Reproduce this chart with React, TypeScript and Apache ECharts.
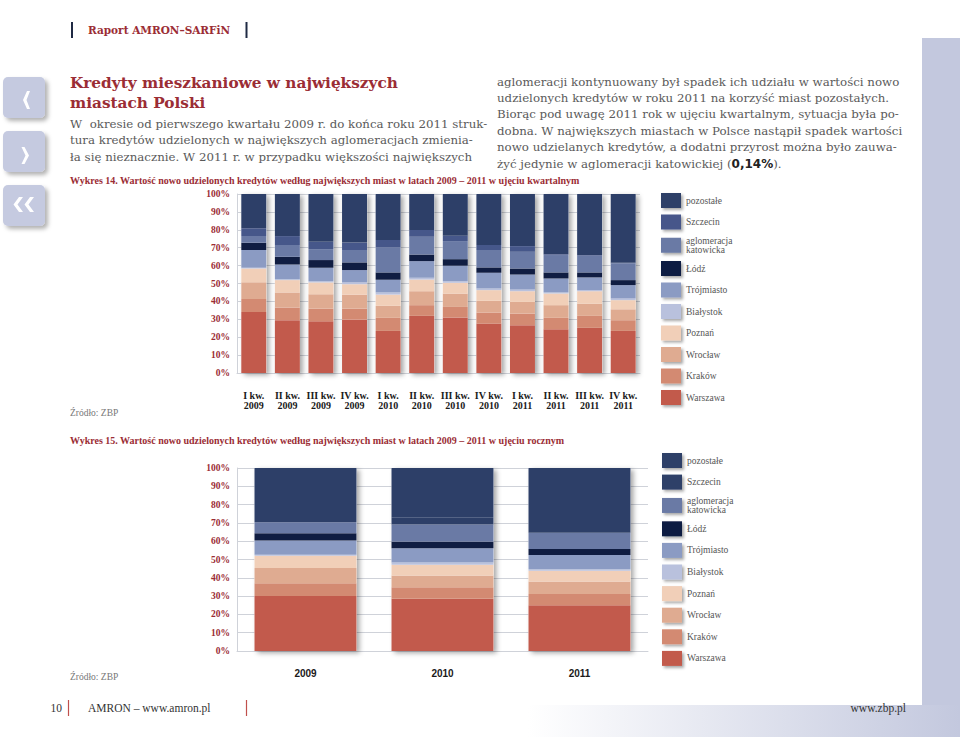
import React, { useEffect, useRef } from 'react';
import * as echarts from 'echarts';

// ---- data ----
const cityNames = ['Warszawa', 'Kraków', 'Wrocław', 'Poznań', 'Białystok', 'Trójmiasto', 'Łódź', 'aglomeracja katowicka', 'Szczecin', 'pozostałe'];
const cityColors = ['#c25a4c', '#d38a72', '#dfab91', '#f1cfb8', '#b9c1dd', '#8b9bc3', '#101d42', '#6a7aa5', '#46578a', '#2d3f68'];
const cityColorsYear = ['#c25a4c', '#d38a72', '#dfab91', '#f1cfb8', '#b9c1dd', '#8b9bc3', '#101d42', '#6a7aa5', '#2d3f68', '#2d3f68'];

const quarterLabels = ['I kw.\n2009', 'II kw.\n2009', 'III kw.\n2009', 'IV kw.\n2009', 'I kw.\n2010', 'II kw.\n2010', 'III kw.\n2010', 'IV kw.\n2010', 'I kw.\n2011', 'II kw.\n2011', 'III kw.\n2011', 'IV kw.\n2011'];
const yearLabels = ['2009', '2010', '2011'];
const percentTicks = { min: 0, max: 100, interval: 10 };

const warszawaQ = [34.1, 29.5, 28.9, 29.9, 23.5, 31.9, 31.0, 27.6, 26.7, 24.4, 25.2, 23.5];
const krakowQ = [7.3, 7.1, 7.1, 6.1, 7.3, 6.0, 5.9, 6.2, 6.5, 6.4, 6.7, 6.0];
const wroclawQ = [9.3, 8.4, 8.0, 7.8, 6.7, 7.8, 7.5, 6.5, 6.5, 7.1, 6.9, 6.1];
const poznanQ = [7.7, 6.9, 6.6, 5.8, 6.3, 6.5, 6.0, 6.0, 6.0, 6.5, 6.9, 5.1];
const bialystokQ = [0.4, 0.5, 0.7, 1.0, 1.2, 1.0, 0.9, 0.9, 0.9, 0.6, 0.6, 0.9];
const trojmiastoQ = [9.9, 8.2, 7.5, 6.9, 7.1, 9.3, 8.6, 8.8, 8.4, 7.8, 7.1, 7.5];
const lodzQ = [4.1, 4.3, 4.3, 4.3, 4.1, 3.7, 3.7, 3.0, 3.4, 3.4, 2.8, 2.8];
const katowickaQ = [3.7, 6.6, 6.1, 6.9, 13.8, 9.9, 10.1, 9.7, 9.3, 9.7, 9.3, 9.3];
const szczecinQ = [4.3, 5.0, 4.1, 4.2, 4.3, 3.8, 3.0, 2.8, 3.2, 0.4, 0.4, 0.4];
const pozostaleQ = [19.2, 23.5, 26.7, 27.1, 25.7, 20.1, 23.3, 28.5, 29.1, 33.7, 34.1, 38.4];

const warszawaY = [30.1, 28.5, 25.0];
const krakowY = [6.9, 6.4, 6.2];
const wroclawY = [8.3, 6.3, 6.8];
const poznanY = [6.7, 5.9, 5.8];
const bialystokY = [0.6, 1.3, 0.9];
const trojmiastoY = [7.8, 7.8, 7.7];
const lodzY = [4.0, 3.7, 3.3];
const katowickaY = [6.0, 9.2, 8.9];
const szczecinY = [4.4, 3.7, 1.5];
const pozostaleY = [25.2, 27.2, 33.9];

const quarterData = [warszawaQ, krakowQ, wroclawQ, poznanQ, bialystokQ, trojmiastoQ, lodzQ, katowickaQ, szczecinQ, pozostaleQ];
const yearData = [warszawaY, krakowY, wroclawY, poznanY, bialystokY, trojmiastoY, lodzY, katowickaY, szczecinY, pozostaleY];

const leftText = [
  'W  okresie od pierwszego kwartału 2009 r. do końca roku 2011 struk-',
  'tura kredytów udzielonych w największych aglomeracjach zmienia-',
  'ła się nieznacznie. W 2011 r. w przypadku większości największych',
];
const rightText = [
  'aglomeracji kontynuowany był spadek ich udziału w wartości nowo',
  'udzielonych kredytów w roku 2011 na korzyść miast pozostałych.',
  'Biorąc pod uwagę 2011 rok w ujęciu kwartalnym, sytuacja była po-',
  'dobna. W największych miastach w Polsce nastąpił spadek wartości',
  'nowo udzielanych kredytów, a dodatni przyrost można było zauwa-',
];

const RED = '#9b2d35';
const GRID = '#cfd2d9';
const SERIF = 'Liberation Serif';
const SLAB = 'DejaVu Serif';

function txt(x: number, y: number, text: string, size: number, o: any = {}) {
  return {
    type: 'text', x, y, silent: true,
    style: {
      text, fontSize: size, fontFamily: o.family || SERIF, fontWeight: o.weight || 'normal',
      fill: o.color || '#555', align: o.align || 'left', verticalAlign: 'middle', rich: o.rich,
    },
  };
}

function sumCols(arrs: number[][]) {
  return arrs[0].map((_, i) => arrs.reduce((s, a) => s + a[i], 0));
}

export default function App() {
  const ref = useRef<HTMLDivElement>(null);
  useEffect(() => {
    const chart = echarts.init(ref.current!, null, { renderer: 'svg', width: 960, height: 737 });

    const shadowStyle = { color: '#ffffff', shadowBlur: 5, shadowColor: 'rgba(0,0,0,0.35)', shadowOffsetX: 3, shadowOffsetY: 2 };

    const mkSeries = (data: number[][], colors: string[], axis: number, bw: number, stack: string) => [
      {
        name: 'cień' + axis, type: 'bar', xAxisIndex: axis, yAxisIndex: axis, barWidth: bw, barGap: '-100%', z: 1,
        silent: true, itemStyle: shadowStyle, data: sumCols(data), emphasis: { disabled: true },
      },
      ...cityNames.map((n, i) => ({
        name: n, type: 'bar', stack, xAxisIndex: axis, yAxisIndex: axis, barWidth: bw, barGap: '-100%', z: 3,
        itemStyle: { color: colors[i] }, data: data[i], emphasis: { disabled: true },
      })),
    ];

    const legendNames = [...cityNames].reverse();
    const fmt = (n: string) => (n === 'aglomeracja katowicka' ? 'aglomeracja\nkatowicka' : n);
    const mkLegend = (left: number, top: number, gap: number, colors: string[]) => ({
      orient: 'vertical', left, top, padding: 0, itemWidth: 20, itemHeight: 15, itemGap: gap, icon: 'rect', selectedMode: false,
      data: legendNames.map((n) => ({ name: n, itemStyle: { color: colors[cityNames.indexOf(n)] } })),
      formatter: fmt,
      itemStyle: { shadowBlur: 3, shadowColor: 'rgba(0,0,0,0.35)', shadowOffsetX: 2, shadowOffsetY: 2 },
      textStyle: { fontFamily: SERIF, fontSize: 9.5, color: '#555', lineHeight: 8.5 },
    });

    const yAxisBase = (grid: number, pad: number) => ({
      type: 'value', gridIndex: grid, ...percentTicks,
      axisLine: { show: true, lineStyle: { color: GRID } }, axisTick: { show: false },
      splitLine: { lineStyle: { color: GRID } },
      axisLabel: { formatter: '{value}%', color: RED, fontFamily: SERIF, fontWeight: 'bold', fontSize: 9.5, margin: 7, padding: [pad, 0, 0, 0] },
    });

    const icon = (y: number) => ({
      type: 'rect', shape: { x: 3, y, width: 42, height: 41, r: 5 }, silent: true,
      style: { fill: '#c5cae0', shadowBlur: 4, shadowColor: 'rgba(0,0,0,0.3)', shadowOffsetX: 3, shadowOffsetY: 3 },
    });
    const chev = (pts: number[][]) => ({ type: 'polygon', shape: { points: pts }, silent: true, style: { fill: '#ffffff' } });

    const BODY = { family: SLAB, color: '#5a5a5a' };

    const graphics: any[] = [
      { type: 'rect', shape: { x: 922, y: 38, width: 38, height: 667 }, silent: true, style: { fill: '#c3c8de' } },
      {
        type: 'rect', shape: { x: 0, y: 705, width: 960, height: 32 }, silent: true,
        style: { fill: new echarts.graphic.LinearGradient(0, 0, 1, 0, [{ offset: 0, color: '#ffffff' }, { offset: 0.55, color: '#ffffff' }, { offset: 1, color: '#c3c8de' }]) },
      },
      { type: 'line', shape: { x1: 72, y1: 22, x2: 72, y2: 38 }, silent: true, style: { stroke: '#1f2a44', lineWidth: 2 } },
      { type: 'line', shape: { x1: 246.5, y1: 22, x2: 246.5, y2: 38 }, silent: true, style: { stroke: '#1f2a44', lineWidth: 2 } },
      txt(88, 30, 'Raport AMRON–SARFiN', 10.5, { family: SLAB, weight: 'bold', color: RED }),
      icon(77), icon(131), icon(185),
      chev([[27, 91], [30, 91], [26.5, 100], [30, 109], [27, 109], [23, 100]]),
      chev([[21.5, 147], [24.5, 147], [29, 155.5], [24.5, 164], [21.5, 164], [25.5, 155.5]]),
      chev([[19, 197], [23, 197], [17.5, 204.5], [23, 212], [19, 212], [13.5, 204.5]]),
      chev([[30, 197], [34, 197], [28.5, 204.5], [34, 212], [30, 212], [24.5, 204.5]]),
      txt(70, 82.5, 'Kredyty mieszkaniowe w największych', 15.3, { family: SLAB, weight: 'bold', color: RED }),
      txt(70, 102.5, 'miastach Polski', 15.3, { family: SLAB, weight: 'bold', color: RED }),
      ...leftText.map((t, i) => txt(70, 123.5 + i * 16.7, t, 11.8, BODY)),
      ...rightText.map((t, i) => txt(497, 81.5 + i * 16.4, t, 11.8, BODY)),
      txt(497, 81.5 + 5 * 16.4, 'żyć jedynie w aglomeracji katowickiej ({b|0,14%}).', 11.8, {
        ...BODY,
        rich: { b: { fontFamily: 'DejaVu Sans', fontWeight: 'bold', fontSize: 12, fill: '#222' } },
      }),
      txt(70, 180, 'Wykres 14. Wartość nowo udzielonych kredytów według największych miast w latach 2009 – 2011 w ujęciu kwartalnym', 10, { weight: 'bold', color: RED }),
      txt(70, 413, 'Źródło: ZBP', 9.5, { color: '#777' }),
      txt(70, 440, 'Wykres 15. Wartość nowo udzielonych kredytów według największych miast w latach 2009 – 2011 w ujęciu rocznym', 10, { weight: 'bold', color: RED }),
      txt(70, 677, 'Źródło: ZBP', 9.5, { color: '#777' }),
      txt(62, 708, '10', 11.5, { align: 'right', color: '#333' }),
      { type: 'line', shape: { x1: 68.5, y1: 700, x2: 68.5, y2: 716 }, silent: true, style: { stroke: '#c0504d', lineWidth: 1.2 } },
      txt(88, 708, 'AMRON – www.amron.pl', 11.5, { color: '#333' }),
      { type: 'line', shape: { x1: 246.5, y1: 700, x2: 246.5, y2: 716 }, silent: true, style: { stroke: '#c0504d', lineWidth: 1.2 } },
      txt(906, 708, 'www.zbp.pl', 11.5, { align: 'right', color: '#333' }),
    ];

    const option: any = {
      animation: false,
      backgroundColor: '#ffffff',
      grid: [
        { left: 237, top: 194, width: 403, height: 179 },
        { left: 237, top: 468, width: 411, height: 183 },
      ],
      xAxis: [
        {
          type: 'category', gridIndex: 0, data: quarterLabels,
          axisLine: { show: true, lineStyle: { color: GRID } }, axisTick: { show: false },
          axisLabel: { interval: 0, margin: 18, fontFamily: SERIF, fontWeight: 'bold', fontSize: 10, color: '#1a1a1a', lineHeight: 9.5 },
        },
        {
          type: 'category', gridIndex: 1, data: yearLabels,
          axisLine: { show: true, lineStyle: { color: GRID } }, axisTick: { show: false },
          axisLabel: { interval: 0, margin: 17, fontFamily: 'Liberation Sans', fontWeight: 'bold', fontSize: 10, color: '#1a1a1a' },
        },
      ],
      yAxis: [yAxisBase(0, 6), yAxisBase(1, 7)],
      legend: [mkLegend(661, 193, 6.5, cityColors), mkLegend(662, 453, 6.6, cityColorsYear)],
      series: [...mkSeries(quarterData, cityColors, 0, 25, 'q'), ...mkSeries(yearData, cityColorsYear, 1, 102, 'y')],
      graphic: { elements: graphics },
    };
    chart.setOption(option);
    return () => chart.dispose();
  }, []);
  return <div ref={ref} style={{ position: 'absolute', left: 0, top: 0, width: 960, height: 737, background: '#fff' }} />;
}
